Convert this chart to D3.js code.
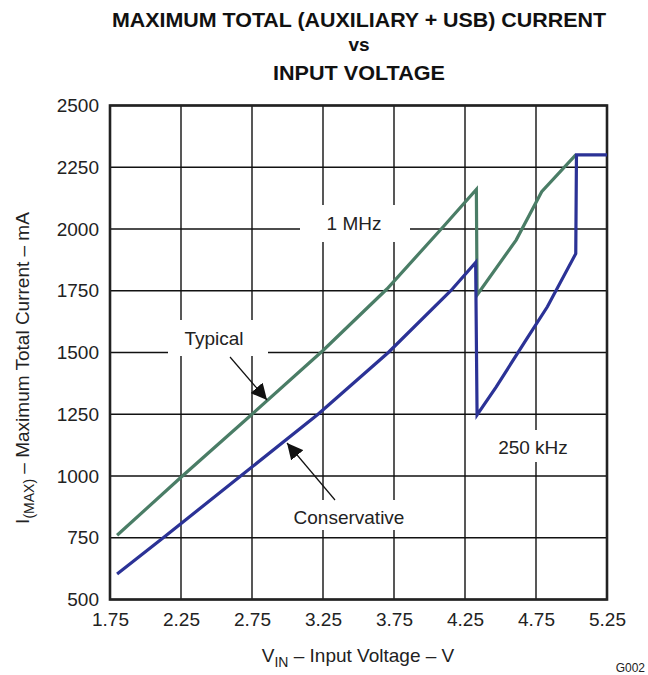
<!DOCTYPE html>
<html>
<head>
<meta charset="utf-8">
<script src="https://cdn.jsdelivr.net/npm/d3@7"></script>
<style>
  html, body { margin: 0; padding: 0; background: #fff; }
  svg { display: block; font-family: "Liberation Sans", Arial, sans-serif; }
</style>
</head>
<body>
<svg id="chart" width="648" height="675"></svg>
<script>
// ---- data ----
const xTicks = [1.75, 2.25, 2.75, 3.25, 3.75, 4.25, 4.75, 5.25];
const yTicks = [500, 750, 1000, 1250, 1500, 1750, 2000, 2250, 2500];

const typicalV = [1.8, 2.25, 2.75, 3.25, 3.7, 4.1, 4.33, 4.335, 4.61, 4.79, 5.03];
const typicalI = [760, 995, 1250, 1508, 1757, 2011, 2160, 1733, 1955, 2151, 2300];

const conservV = [1.8, 2.125, 2.67, 3.215, 3.71, 4.15, 4.325, 4.335, 4.47, 4.68, 4.83, 5.03, 5.035, 5.25];
const conservI = [603, 750, 1000, 1250, 1500, 1750, 1865, 1247, 1361, 1551, 1685, 1900, 2300, 2300];

const titleLines = ["MAXIMUM TOTAL (AUXILIARY + USB) CURRENT", "vs", "INPUT VOLTAGE"];

// ---- layout ----
const svg = d3.select("#chart");
const L = 110, R = 607, T = 105.5, B = 599.5;
const x = d3.scaleLinear().domain([1.75, 5.25]).range([L, R]);
const y = d3.scaleLinear().domain([500, 2500]).range([B, T]);

// title
const tl = [{t: titleLines[0], yy: 27, len: 494}, {t: titleLines[1], yy: 51, len: null}, {t: titleLines[2], yy: 80, len: 172}];
tl.forEach(d => {
  const e = svg.append("text").attr("x", 359).attr("y", d.yy)
    .attr("text-anchor", "middle").attr("font-weight", "bold")
    .attr("font-size", d.len ? 21 : 19).attr("fill", "#111").text(d.t);
  if (d.len) e.attr("textLength", d.len).attr("lengthAdjust", "spacingAndGlyphs");
});

// grid
const g = svg.append("g");
g.selectAll(".vg").data(xTicks).join("line")
  .attr("x1", d => x(d)).attr("x2", d => x(d)).attr("y1", T).attr("y2", B)
  .attr("stroke", "#111").attr("stroke-width", 1.4);
g.selectAll(".hg").data(yTicks).join("line")
  .attr("x1", L).attr("x2", R).attr("y1", d => y(d)).attr("y2", d => y(d))
  .attr("stroke", "#111").attr("stroke-width", 1.4);

// label boxes (white backgrounds that interrupt grid)
const boxes = [
  {x0: 300, x1: 410, y0: 205, y1: 242},
  {x0: 168, x1: 268, y0: 320, y1: 356},
  {x0: 470, x1: 600, y0: 430, y1: 462},
  {x0: 280, x1: 418, y0: 500, y1: 530}
];
svg.selectAll(".bx").data(boxes).join("rect")
  .attr("x", d => d.x0).attr("y", d => d.y0)
  .attr("width", d => d.x1 - d.x0).attr("height", d => d.y1 - d.y0)
  .attr("fill", "#fff");

// frame
svg.append("rect").attr("x", L).attr("y", T).attr("width", R - L).attr("height", B - T)
  .attr("fill", "none").attr("stroke", "#222").attr("stroke-width", 2.6);

// axes (tick labels via d3 axes)
const xAxis = d3.axisBottom(x).tickValues(xTicks).tickSize(0).tickPadding(13)
  .tickFormat(d3.format(".2f"));
const gx = svg.append("g").attr("transform", `translate(0,${B})`).call(xAxis);
gx.select(".domain").remove();
gx.selectAll("text").attr("font-size", 19).attr("fill", "#222")
  .attr("font-family", "Liberation Sans, Arial, sans-serif");

const yAxis = d3.axisLeft(y).tickValues(yTicks).tickSize(0).tickPadding(11)
  .tickFormat(d3.format("d"));
const gy = svg.append("g").attr("transform", `translate(${L},0)`).call(yAxis);
gy.select(".domain").remove();
gy.selectAll("text").attr("font-size", 19).attr("fill", "#222")
  .attr("font-family", "Liberation Sans, Arial, sans-serif");

// lines
const line = d3.line().x(d => x(d[0])).y(d => y(d[1]));
const typ = typicalV.map((v, i) => [v, typicalI[i]]);
const con = conservV.map((v, i) => [v, conservI[i]]);
svg.append("path").datum(typ).attr("d", line).attr("fill", "none")
  .attr("stroke", "#4a7d66").attr("stroke-width", 3.2).attr("stroke-linejoin", "miter");
svg.append("path").datum(con).attr("d", line).attr("fill", "none")
  .attr("stroke", "#2b3296").attr("stroke-width", 3.2).attr("stroke-linejoin", "miter");

// annotations
const ann = [
  {t: "1 MHz", cx: 354, cy: 223},
  {t: "Typical", cx: 214, cy: 338},
  {t: "250 kHz", cx: 533, cy: 447},
  {t: "Conservative", cx: 349, cy: 517}
];
svg.selectAll(".an").data(ann).join("text")
  .attr("x", d => d.cx).attr("y", d => d.cy).attr("dy", "0.35em")
  .attr("text-anchor", "middle").attr("font-size", 19).attr("fill", "#222")
  .text(d => d.t);

// arrows
const defs = svg.append("defs");
defs.append("marker").attr("id", "ah").attr("viewBox", "0 0 10 10")
  .attr("refX", 10).attr("refY", 5).attr("markerWidth", 16).attr("markerHeight", 16)
  .attr("markerUnits", "userSpaceOnUse").attr("orient", "auto")
  .append("path").attr("d", "M0,0 L10,5 L0,10 Z").attr("fill", "#111");
const arrows = [
  {x1: 230, y1: 357, x2: 267, y2: 400},
  {x1: 335, y1: 500, x2: 287, y2: 443}
];
svg.selectAll(".ar").data(arrows).join("line")
  .attr("x1", d => d.x1).attr("y1", d => d.y1).attr("x2", d => d.x2).attr("y2", d => d.y2)
  .attr("stroke", "#111").attr("stroke-width", 1.2).attr("marker-end", "url(#ah)");

// axis titles
const xt = svg.append("text").attr("x", 358).attr("y", 662).attr("text-anchor", "middle")
  .attr("font-size", 19).attr("fill", "#222");
xt.append("tspan").text("V");
xt.append("tspan").attr("font-size", 14).attr("dy", 5).text("IN");
xt.append("tspan").attr("dy", -5).text(" – Input Voltage – V");

const yt = svg.append("text").attr("transform", "translate(29,368) rotate(-90)")
  .attr("text-anchor", "middle").attr("font-size", 19).attr("fill", "#222");
yt.append("tspan").text("I");
yt.append("tspan").attr("font-size", 14).attr("dy", 5).text("(MAX)");
yt.append("tspan").attr("dy", -5).text(" – Maximum Total Current – mA");

svg.append("text").attr("x", 645).attr("y", 672).attr("text-anchor", "end")
  .attr("font-size", 12).attr("fill", "#222").text("G002");
</script>
</body>
</html>
